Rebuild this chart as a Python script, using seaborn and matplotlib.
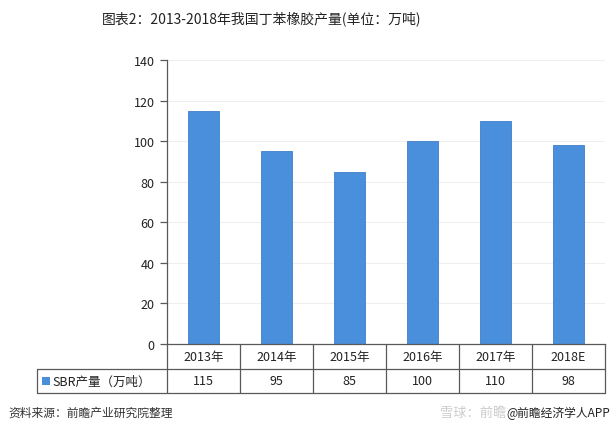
import matplotlib
matplotlib.use("Agg")
import matplotlib.pyplot as plt
import matplotlib.transforms as mtransforms
from matplotlib.lines import Line2D
from matplotlib.patches import Rectangle
import seaborn as sns
import pandas as pd

categories = ["2013年", "2014年", "2015年", "2016年", "2017年", "2018E"]
values = [115, 95, 85, 100, 110, 98]
value_labels = ["115", "95", "85", "100", "110", "98"]
series_name = "SBR产量（万吨）"
title = "图表2：2013-2018年我国丁苯橡胶产量(单位：万吨)"
source = "资料来源：前瞻产业研究院整理"
yticks = [0, 20, 40, 60, 80, 100, 120, 140]

sns.set_style("white")
plt.rcParams["font.family"] = ["Noto Sans CJK SC", "DejaVu Sans"]

W, H = 612, 439
fig = plt.figure(figsize=(W / 100, H / 100), dpi=100)

def fx(x):
    return x / W

def fy(y):
    return 1 - y / H

ax_l, ax_r, ax_t, ax_b = 167, 605, 61, 345
ax = fig.add_axes([fx(ax_l), fy(ax_b), (ax_r - ax_l) / W, (ax_b - ax_t) / H])

df = pd.DataFrame({"cat": categories, "val": values})
sns.barplot(data=df, x="cat", y="val", ax=ax, color="#4A8FDC", width=0.42,
            saturation=1, edgecolor="#3F7FC8", linewidth=0.6)

ax.set_ylim(0, 140)
ax.set_xlim(-0.5, len(categories) - 0.5)
ax.set_yticks(yticks)
ax.set_yticklabels([str(t) for t in yticks], fontsize=9, color="#222222")
ax.set_xticks([])
ax.set_xlabel("")
ax.set_ylabel("")
ax.grid(axis="y", color="#EFEFEF", linewidth=0.8)
ax.set_axisbelow(True)
for s in ["top", "right"]:
    ax.spines[s].set_visible(False)
ax.spines["left"].set_color("#595959")
ax.spines["left"].set_linewidth(0.9)
ax.spines["bottom"].set_color("#595959")
ax.spines["bottom"].set_linewidth(0.9)
ax.tick_params(axis="y", direction="out", length=5, width=0.9, color="#595959", pad=4, left=True)

# Data table below the axes
lc = "#595959"
lw = 0.9
row1_top, row1_bot, row2_bot = 345, 370, 394
hdr_l = 37
trans = mtransforms.blended_transform_factory(ax.transData, fig.transFigure)

def hline(x0, x1, y):
    fig.add_artist(Line2D([fx(x0), fx(x1)], [fy(y), fy(y)], color=lc, lw=lw, transform=fig.transFigure))

def vline(x, y0, y1):
    fig.add_artist(Line2D([fx(x), fx(x)], [fy(y0), fy(y1)], color=lc, lw=lw, transform=fig.transFigure))

hline(hdr_l, ax_r, row1_bot)
hline(hdr_l, ax_r, row2_bot)
vline(hdr_l, row1_bot, row2_bot)
n = len(categories)
for i in range(n + 1):
    x = ax_l + (ax_r - ax_l) * i / n
    vline(x, row1_top, row2_bot)

for i, (c, v) in enumerate(zip(categories, value_labels)):
    fig.text(0, fy((row1_top + row1_bot) / 2), c, transform=trans, fontsize=9,
             ha="center", va="center", color="#222222").set_x(i)
    fig.text(0, fy((row1_bot + row2_bot) / 2), v, transform=trans, fontsize=9,
             ha="center", va="center", color="#222222").set_x(i)

fig.add_artist(Rectangle((fx(42), fy(386)), 8 / W, 8 / H, transform=fig.transFigure,
                         facecolor="#4A8FDC", edgecolor="none"))
fig.text(fx(52), fy((row1_bot + row2_bot) / 2), series_name, fontsize=9,
         ha="left", va="center", color="#222222")

fig.text(fx(262), fy(19), title, fontsize=10, ha="center", va="center", color="#222222")
fig.text(fx(8), fy(413), source, fontsize=8.5, ha="left", va="center",
         color="#333333", style="italic")
fig.text(fx(440), fy(413), "雪球：前瞻", fontsize=9.5, ha="left", va="center", color="#CCCCCC")
fig.text(fx(610), fy(413), "@前瞻经济学人APP", fontsize=8.5, ha="right", va="center", color="#222222")

fig.savefig("out.png", dpi=100)
